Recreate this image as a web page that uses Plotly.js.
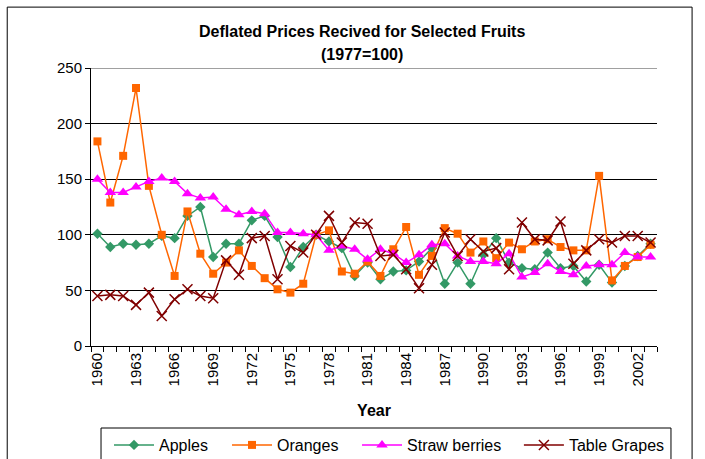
<!DOCTYPE html>
<html>
<head>
<meta charset="utf-8">
<script src="https://cdn.plot.ly/plotly-3.0.1.min.js"></script>
<style>html,body{margin:0;padding:0;background:#fff;}#chart{width:705px;height:459px;}</style>
</head>
<body>
<div id="chart"></div>
<script>
const years = [];
for (let y = 1960; y <= 2003; y++) years.push(y);
const tickYears = [1960,1963,1966,1969,1972,1975,1978,1981,1984,1987,1990,1993,1996,1999,2002];

const apples = [101,89,92,91,92,99,97,117,125,80,92,92,113,117,98,71,89,100,94,88,63,75,60,67,68,76,88,56,75,56,82,97,75,70,69,84,70,72,58,73,57,72,81,92];
const oranges = [184,129,171,232,144,100,63,121,83,65,75,86,72,61,51,48,56,100,104,67,65,76,63,87,107,64,81,106,101,84,94,79,93,87,94,96,89,86,86,153,59,72,80,91];
const strawberries = [150,138,138,143,148,151,148,137,133,134,123,118,121,119,102,102,101,100,86,90,87,78,87,83,75,82,91,92,81,76,76,74,83,62,66,74,67,64,72,73,73,84,80,80];
const grapes = [45,46,45,37,48,27,42,51,45,43,77,64,97,99,60,90,84,100,117,93,111,110,81,82,69,52,73,102,81,96,85,88,69,111,96,95,112,74,86,96,93,99,99,93];

const traces = [
  {name:'Apples', legend:'legend', x:years, y:apples, mode:'lines+markers', line:{color:'#339966', width:1.5}, marker:{symbol:'diamond', size:8, color:'#339966'}},
  {name:'Oranges', legend:'legend2', x:years, y:oranges, mode:'lines+markers', line:{color:'#FF6600', width:1.5}, marker:{symbol:'square', size:8, color:'#FF6600'}},
  {name:'Straw berries', legend:'legend3', x:years, y:strawberries, mode:'lines+markers', line:{color:'#FF00FF', width:1.5}, marker:{symbol:'triangle-up', size:10, color:'#FF00FF'}},
  {name:'Table Grapes', legend:'legend4', x:years, y:grapes, mode:'lines+markers', line:{color:'#800000', width:1.5}, marker:{symbol:'x-thin-open', size:10, color:'#800000', line:{color:'#800000', width:1.5}}}
];

function leg(x) {
  return {orientation:'h', x:x, xanchor:'left', y:-0.295, yanchor:'top',
    borderwidth:0, font:{size:16}, bgcolor:'rgba(0,0,0,0)', itemwidth:40};
}

const layout = {
  width:705, height:459,
  margin:{l:91, r:48, t:68, b:113, autoexpand:false},
  paper_bgcolor:'#fff', plot_bgcolor:'#fff',
  font:{family:'Liberation Sans, Arial, sans-serif', size:15, color:'#000'},
  annotations:[
    {text:'<b>Deflated Prices Recived for Selected Fruits</b>', xref:'paper', yref:'paper', x:0.479, y:1.1295, xanchor:'center', yanchor:'middle', showarrow:false, font:{size:16}},
    {text:'<b>(1977=100)</b>', xref:'paper', yref:'paper', x:0.479, y:1.0468, xanchor:'center', yanchor:'middle', showarrow:false, font:{size:16}}
  ],
  xaxis:{
    range:[1959.5, 2003.5], tickmode:'array', tickvals:tickYears, ticktext:tickYears.map(String),
    tickangle:-90, ticks:'', showgrid:false, zeroline:false, automargin:false,
    showline:true, linecolor:'#000', linewidth:1,
    minor:{tickmode:'linear', tick0:1959.5, dtick:1, ticks:'outside', ticklen:5, tickcolor:'#000', showgrid:false},
    tickfont:{size:15},
    title:{text:'<b>Year</b>', font:{size:16}, standoff:19}
  },
  yaxis:{
    range:[0,250], dtick:50, ticks:'outside', ticklen:5, tickcolor:'#000', automargin:false,
    showline:true, linecolor:'#000', linewidth:1,
    showgrid:true, gridcolor:'#000', gridwidth:1, zeroline:false,
    tickfont:{size:15}
  },
  legend: leg(0.0318),
  legend2: leg(0.2403),
  legend3: leg(0.470),
  legend4: leg(0.756),
  shapes:[
    {type:'rect', xref:'paper', yref:'paper', x0:-0.148, x1:1.062, y0:-0.6, y1:1.219, line:{color:'#000', width:1}, fillcolor:'rgba(0,0,0,0)', layer:'below'},
    {type:'rect', xref:'paper', yref:'paper', x0:0.0177, x1:1.0247, y0:-0.45, y1:-0.295, line:{color:'#000', width:1}, fillcolor:'rgba(0,0,0,0)', layer:'below'},
    {type:'line', xref:'paper', yref:'y', x0:0, x1:1, y0:250, y1:250, line:{color:'#808080', width:1.5}}
  ],
  showlegend:true
};

Plotly.newPlot('chart', traces, layout, {displayModeBar:false, staticPlot:true});
</script>
</body>
</html>
